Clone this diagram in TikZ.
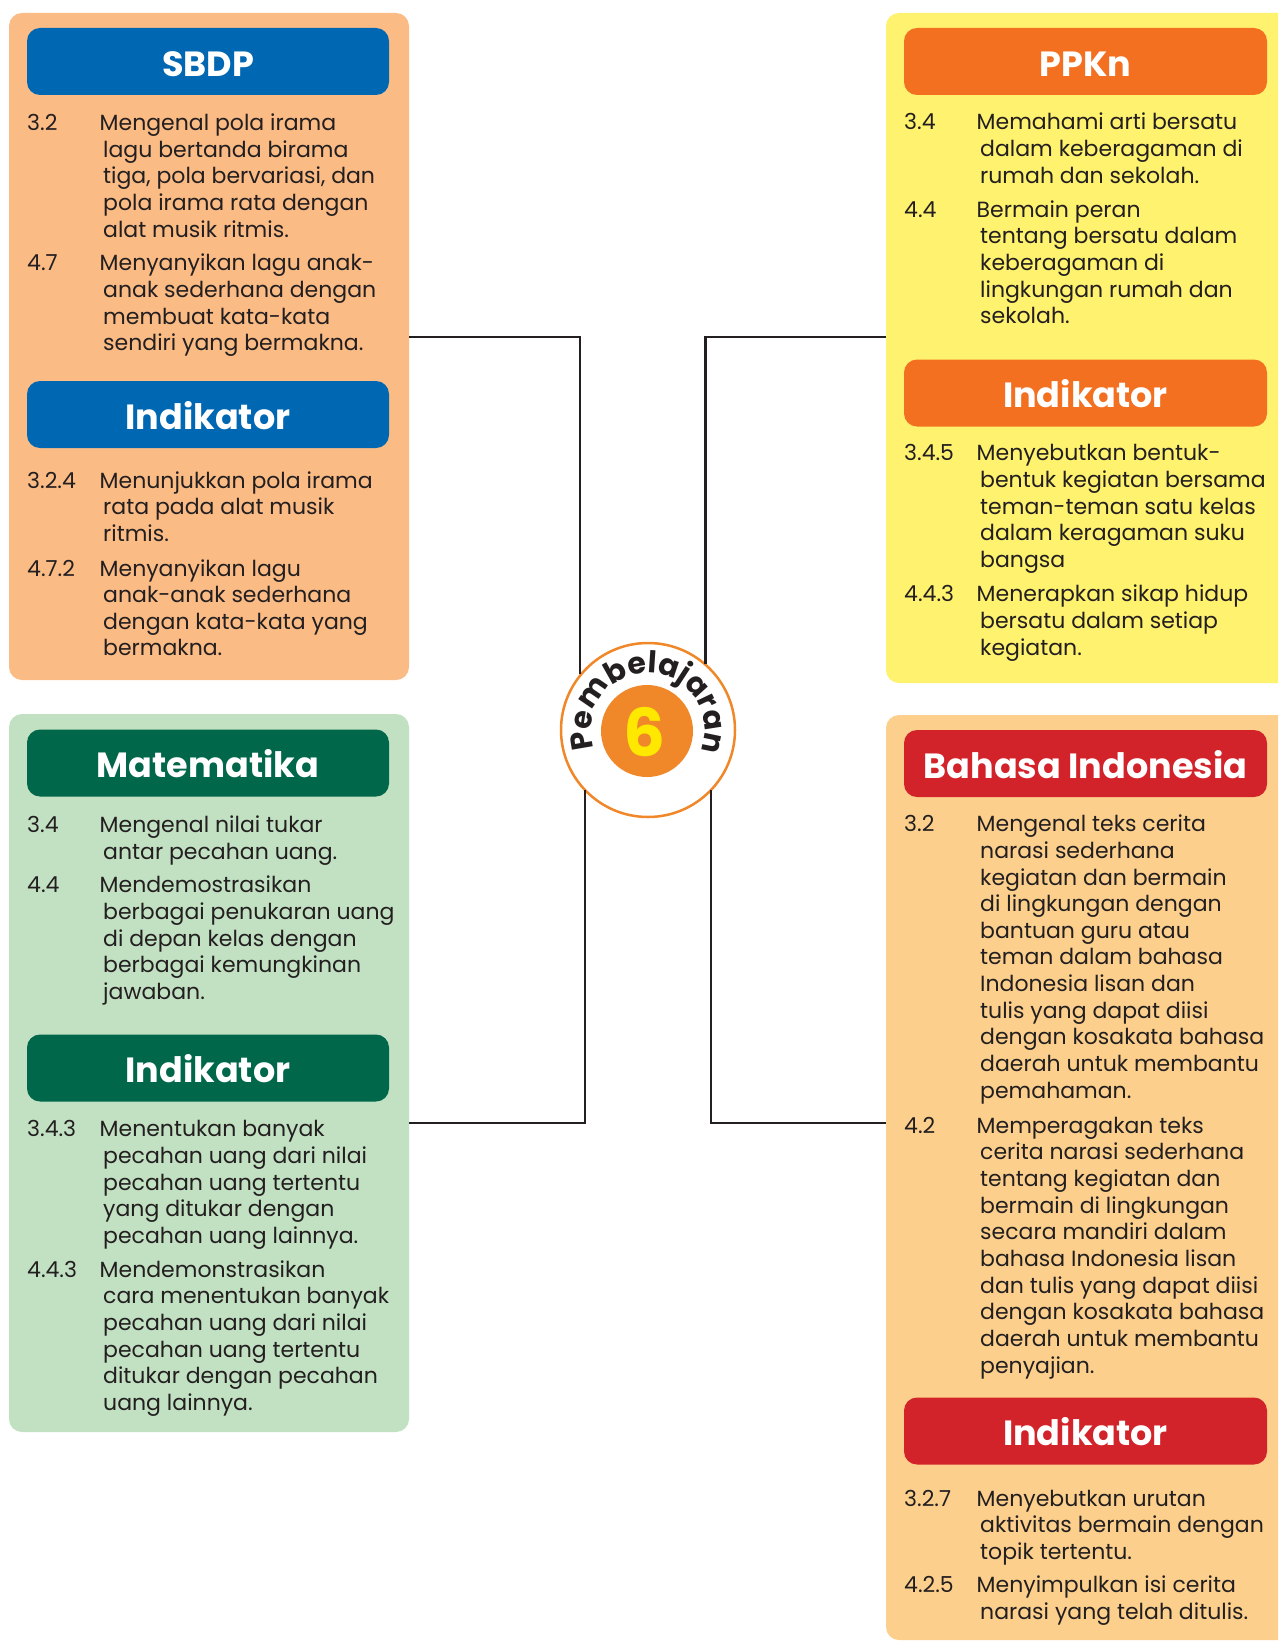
\documentclass[tikz,border=0pt]{standalone}
\usepackage{fontspec}
\setmainfont{Poppins}
\usetikzlibrary{decorations.text}
\definecolor{ink}{HTML}{231F20}
\definecolor{peach}{HTML}{FBBB85}
\definecolor{sbdpblue}{HTML}{0067B2}
\definecolor{mint}{HTML}{C2E1C2}
\definecolor{matgreen}{HTML}{00674A}
\definecolor{yel}{HTML}{FFF26E}
\definecolor{ppknorange}{HTML}{F37021}
\definecolor{bisand}{HTML}{FCD08C}
\definecolor{bired}{HTML}{D2232A}
\definecolor{circorange}{HTML}{F0882A}
\definecolor{sixyellow}{HTML}{FFE800}
\newcommand{\NL}{\\ & \hspace{3.5pt}}
\newcommand{\itemtab}[2]{\begin{tabular}[t]{@{}l@{}l@{}}\makebox[72.5pt][l]{#1}&#2\end{tabular}}
\newcommand{\pemb}{\bfseries\fontsize{30}{30}\selectfont\color{ink}}
\tikzset{
  panel/.style={rounded corners=13pt, inner sep=0pt, outer sep=0pt, anchor=north west},
  hdr/.style={rounded corners=13pt, inner sep=0pt, outer sep=0pt, minimum width=362pt, minimum height=67pt},
  hdrtext/.style={text=white, font=\bfseries\fontsize{35}{35}\selectfont, inner sep=0pt, text height=25pt, text depth=0pt},
  itm/.style={anchor=base west, inner sep=0pt, text=ink, font=\fontsize{22}{26.65}\selectfont},
  conn/.style={draw=ink, line width=2.5pt},
}
\begin{document}
\begin{tikzpicture}[x=1pt,y=1pt]
\useasboundingbox (0,0) rectangle (1278,-1648);
\clip (0,0) rectangle (1278,-1648);
\fill[white] (0,0) rectangle (1278,-1648);

% panels
\node[panel, fill=peach, minimum width=400pt, minimum height=667pt] (p1) at (9,-13) {};
\node[panel, fill=mint, minimum width=400pt, minimum height=718pt] (p3) at (9,-714) {};
\node[panel, fill=yel, minimum width=430pt, minimum height=670pt] (p2) at (886,-13) {};
\node[panel, fill=bisand, minimum width=430pt, minimum height=925pt] (p4) at (886,-715) {};

% headers
\node[hdr, fill=sbdpblue] (h1) at (208,-61.5) {};
\node[hdr, fill=sbdpblue] (h2) at (208,-414.5) {};
\node[hdr, fill=matgreen] (h3) at (208,-763) {};
\node[hdr, fill=matgreen] (h4) at (208,-1068) {};
\node[hdr, fill=ppknorange, minimum width=363pt] (h5) at (1085.5,-61.5) {};
\node[hdr, fill=ppknorange, minimum width=363pt] (h6) at (1085.5,-393) {};
\node[hdr, fill=bired, minimum width=363pt] (h7) at (1085.5,-763.5) {};
\node[hdr, fill=bired, minimum width=363pt] (h8) at (1085.5,-1431) {};
\node[hdrtext] (t1) at ([yshift=-3pt]h1.center) {SBDP};
\node[hdrtext] (t2) at ([yshift=-2pt]h2.center) {Indikator};
\node[hdrtext] (t3) at ([yshift=-2pt]h3.center) {Matematika};
\node[hdrtext] (t4) at ([yshift=-2pt]h4.center) {Indikator};
\node[hdrtext] (t5) at ([yshift=-3pt]h5.center) {PPKn};
\node[hdrtext] (t6) at ([yshift=-2pt]h6.center) {Indikator};
\node[hdrtext] (t7) at ([yshift=-2pt]h7.center) {Bahasa Indonesia};
\node[hdrtext] (t8) at ([yshift=-2pt]h8.center) {Indikator};

% SBDP items
\node[itm] (s1) at (27,-130.7) {\itemtab{3.2}{Mengenal pola irama\NL lagu bertanda birama\NL tiga, pola bervariasi, dan\NL pola irama rata dengan\NL alat musik ritmis.}};
\node[itm] (s2) at (27,-270.7) {\itemtab{4.7}{Menyanyikan lagu anak-\NL anak sederhana dengan\NL membuat kata-kata\NL sendiri yang bermakna.}};
\node[itm] (s3) at (27,-488.3) {\itemtab{3.2.4}{Menunjukkan pola irama\NL rata pada alat musik\NL ritmis.}};
\node[itm] (s4) at (27,-576) {\itemtab{4.7.2}{Menyanyikan lagu\NL anak-anak sederhana\NL dengan kata-kata yang\NL bermakna.}};

% Matematika items
\node[itm] (m1) at (27,-832.7) {\itemtab{3.4}{Mengenal nilai tukar\NL antar pecahan uang.}};
\node[itm] (m2) at (27,-892.7) {\itemtab{4.4}{Mendemostrasikan\NL berbagai penukaran uang\NL di depan kelas dengan\NL berbagai kemungkinan\NL jawaban.}};
\node[itm] (m3) at (27,-1136.7) {\itemtab{3.4.3}{Menentukan banyak\NL pecahan uang dari nilai\NL pecahan uang tertentu\NL yang ditukar dengan\NL pecahan uang lainnya.}};
\node[itm] (m4) at (27,-1277.3) {\itemtab{4.4.3}{Mendemonstrasikan\NL cara menentukan banyak\NL pecahan uang dari nilai\NL pecahan uang tertentu\NL ditukar dengan pecahan\NL uang lainnya.}};

% PPKn items
\node[itm] (k1) at (904,-130) {\itemtab{3.4}{Memahami arti bersatu\NL dalam keberagaman di\NL rumah dan sekolah.}};
\node[itm] (k2) at (904,-217.3) {\itemtab{4.4}{Bermain peran\NL tentang bersatu dalam\NL keberagaman di\NL lingkungan rumah dan\NL sekolah.}};
\node[itm] (k3) at (904,-460.7) {\itemtab{3.4.5}{Menyebutkan bentuk-\NL bentuk kegiatan bersama\NL teman-teman satu kelas\NL dalam keragaman suku\NL bangsa}};
\node[itm] (k4) at (904,-601.7) {\itemtab{4.4.3}{Menerapkan sikap hidup\NL bersatu dalam setiap\NL kegiatan.}};

% Bahasa Indonesia items
\node[itm] (b1) at (904,-831.7) {\itemtab{3.2}{Mengenal teks cerita\NL narasi sederhana\NL kegiatan dan bermain\NL di lingkungan dengan\NL bantuan guru atau\NL teman dalam bahasa\NL Indonesia lisan dan\NL tulis yang dapat diisi\NL dengan kosakata bahasa\NL daerah untuk membantu\NL pemahaman.}};
\node[itm] (b2) at (904,-1133.3) {\itemtab{4.2}{Memperagakan teks\NL cerita narasi sederhana\NL tentang kegiatan dan\NL bermain di lingkungan\NL secara mandiri dalam\NL bahasa Indonesia lisan\NL dan tulis yang dapat diisi\NL dengan kosakata bahasa\NL daerah untuk membantu\NL penyajian.}};
\node[itm] (b3) at (904,-1506) {\itemtab{3.2.7}{Menyebutkan urutan\NL aktivitas bermain dengan\NL topik tertentu.}};
\node[itm] (b4) at (904,-1592.7) {\itemtab{4.2.5}{Menyimpulkan isi cerita\NL narasi yang telah ditulis.}};

% centre circle
\node[circle, draw=circorange, line width=2.5pt, fill=white, minimum size=174pt, inner sep=0pt, outer sep=0pt] (circ) at (648,-730) {};

% connectors
\coordinate (j1) at (580,-337);
\coordinate (j2) at (705.5,-337);
\coordinate (j3) at (585,-1123);
\coordinate (j4) at (711,-1123);
\draw[conn] (p1.east |- j1) -- (j1) -- (j1 |- circ.140.6);
\draw[conn] (p2.west |- j2) -- (j2) -- (j2 |- circ.49.2);
\draw[conn] (p3.east |- j3) -- (j3) -- (j3 |- circ.224.3);
\draw[conn] (p4.west |- j4) -- (j4) -- (j4 |- circ.-44.3);

\node[circle, fill=circorange, minimum size=92pt, inner sep=0pt] (inner) at (647,-731) {};
\node[text=sixyellow, font=\bfseries\fontsize{66}{66}\selectfont, inner sep=0pt, text height=46pt, text depth=0pt] (six) at (645,-733) {6};
\path[decorate, decoration={text along path, text={|\pemb|Pembelajaran}, text align={fit to path}}]
  ([shift={(199:57pt)}]circ.center) arc[start angle=199, end angle=-19, radius=57pt];
\end{tikzpicture}
\end{document}
